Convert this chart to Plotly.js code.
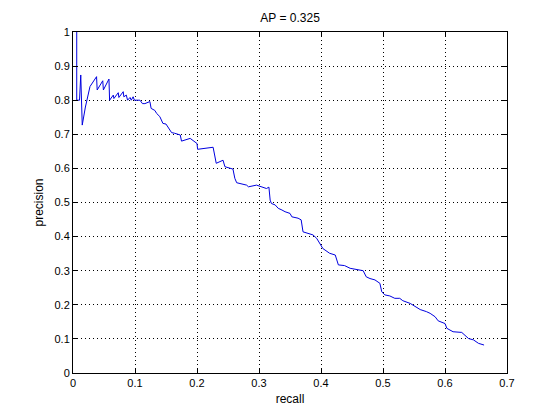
<!DOCTYPE html>
<html>
<head>
<meta charset="utf-8">
<script src="https://cdn.plot.ly/plotly-3.0.1.min.js"></script>
<style>html,body{margin:0;padding:0;background:#fff;}#chart{width:560px;height:420px;}</style>
</head>
<body>
<div id="chart"></div>
<script>
const recall = [0.006,0.006,0.0105,0.0125,0.0149,0.02,0.0274,0.033,0.038,0.039,0.048,0.049,0.058,0.059,0.065,0.066,0.073,0.074,0.081,0.082,0.086,0.088,0.092,0.094,0.097,0.099,0.108,0.112,0.116,0.124,0.126,0.132,0.135,0.14,0.145,0.15,0.154,0.159,0.164,0.173,0.175,0.189,0.2,0.201,0.226,0.229,0.231,0.242,0.245,0.258,0.261,0.264,0.28,0.283,0.296,0.312,0.316,0.318,0.32,0.326,0.331,0.337,0.342,0.35,0.353,0.363,0.368,0.371,0.38,0.387,0.393,0.398,0.403,0.414,0.423,0.428,0.438,0.447,0.468,0.473,0.479,0.487,0.495,0.498,0.503,0.511,0.519,0.527,0.532,0.544,0.552,0.56,0.57,0.576,0.584,0.589,0.6,0.603,0.613,0.627,0.638,0.646,0.654,0.663];
const precision = [1.0,0.8,0.8,0.874,0.727,0.78,0.84,0.854,0.869,0.83,0.857,0.83,0.862,0.80,0.815,0.805,0.822,0.808,0.825,0.81,0.815,0.80,0.808,0.80,0.81,0.80,0.80,0.79,0.79,0.796,0.776,0.77,0.761,0.752,0.732,0.73,0.717,0.705,0.703,0.698,0.68,0.688,0.673,0.656,0.662,0.639,0.615,0.624,0.605,0.598,0.571,0.558,0.551,0.546,0.551,0.541,0.545,0.507,0.497,0.493,0.483,0.478,0.473,0.468,0.458,0.454,0.449,0.414,0.41,0.405,0.395,0.378,0.365,0.351,0.346,0.317,0.315,0.307,0.3,0.282,0.277,0.273,0.263,0.238,0.229,0.226,0.219,0.219,0.212,0.204,0.194,0.186,0.18,0.175,0.165,0.153,0.145,0.131,0.121,0.119,0.101,0.097,0.087,0.082];
const xTicks = [0,0.1,0.2,0.3,0.4,0.5,0.6,0.7];
const yTicks = [0,0.1,0.2,0.3,0.4,0.5,0.6,0.7,0.8,0.9,1];
const titleText = 'AP = 0.325';
const xLabel = 'recall';
const yLabel = 'precision';

const fontFam = 'Liberation Sans, Arial, sans-serif';
const axisCommon = {
  showline: true, linecolor: '#000', linewidth: 1, mirror: 'ticks',
  ticks: 'inside', ticklen: 5, tickcolor: '#000',
  showgrid: true, gridcolor: '#000', gridwidth: 1, griddash: '1px,3px',
  zeroline: false, tickfont: {family: fontFam, size: 11, color: '#000'}
};
const titleFont = {family: fontFam, size: 12, color: '#000'};
const layout = {
  width: 560, height: 420,
  margin: {l: 73, r: 53, t: 32, b: 47},
  paper_bgcolor: '#fff', plot_bgcolor: '#fff',
  showlegend: false,
  title: {text: titleText, x: 0.518, xanchor: 'center', y: 0.957, yanchor: 'middle', font: titleFont},
  xaxis: Object.assign({}, axisCommon, {range: [0, 0.7], tickvals: xTicks, ticktext: xTicks.map(String),
    title: {text: xLabel, standoff: 6, font: titleFont}}),
  yaxis: Object.assign({}, axisCommon, {range: [0, 1], tickvals: yTicks, ticktext: yTicks.map(String),
    title: {text: yLabel, standoff: 8, font: titleFont}})
};
Plotly.newPlot('chart', [{
  x: recall, y: precision, type: 'scatter', mode: 'lines',
  line: {color: '#0000e0', width: 1}
}], layout, {staticPlot: true, displayModeBar: false});
</script>
</body>
</html>
